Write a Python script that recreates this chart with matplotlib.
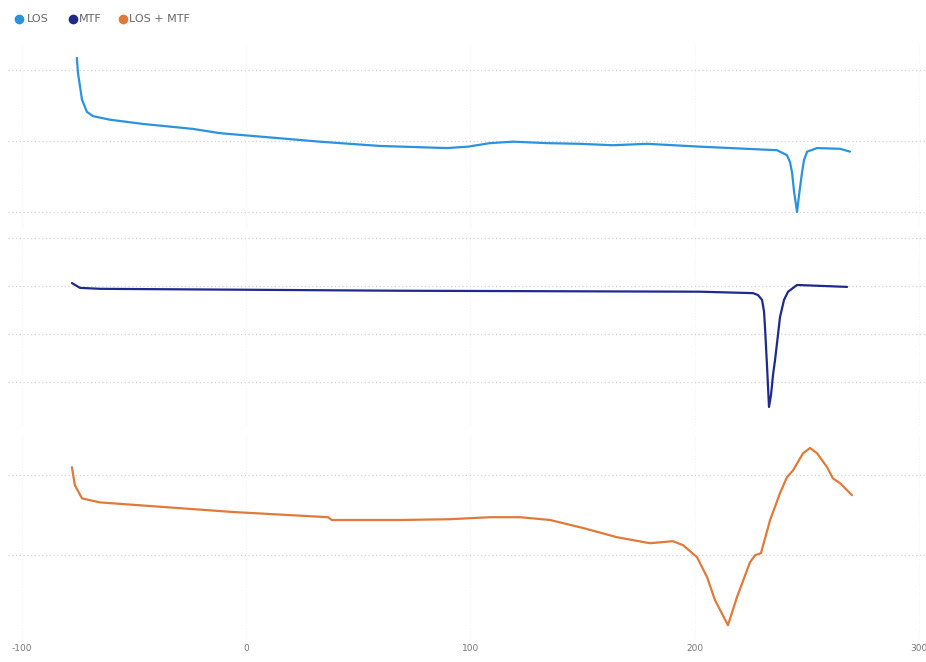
import matplotlib
matplotlib.use("Agg")
import matplotlib.pyplot as plt
from matplotlib.lines import Line2D

# ---------------- data ----------------
series_names = ["LOS", "MTF", "LOS + MTF"]

los_x = [-75.5, -75.0, -73.2, -71.0, -68.3, -60.8, -46.0, -23.7, -11.7, 32.9, 59.6,
         89.5, 98.9, 108.7, 119.0, 134.1, 148.8, 163.5, 178.7, 202.3, 236.7, 241.1,
         242.5, 243.4, 244.3, 245.6, 246.5, 247.8, 248.7, 250.1, 254.5, 264.8, 269.2]
los_y = [2.17, 1.96, 1.58, 1.41, 1.35, 1.30, 1.24, 1.17, 1.11, 0.99, 0.93,
         0.90, 0.92, 0.97, 0.99, 0.97, 0.96, 0.94, 0.96, 0.92, 0.87, 0.80,
         0.70, 0.55, 0.28, 0.00, 0.24, 0.55, 0.73, 0.85, 0.90, 0.89, 0.85]

mtf_x = [-77.7, -74.1, -65.2, 68.6, 202.3, 226.0, 228.2, 230.0, 230.9, 231.3, 232.2,
         233.1, 234.0, 234.9, 235.8, 237.1, 238.0, 239.8, 241.6, 245.6, 267.9]
mtf_y = [2.06, 1.96, 1.94, 1.90, 1.88, 1.85, 1.81, 1.71, 1.46, 1.15, 0.35,
         -0.52, -0.27, 0.15, 0.46, 0.98, 1.35, 1.71, 1.88, 2.02, 1.98]

sum_x = [-77.7, -76.4, -73.2, -65.2, -5.9, 36.5, 38.2, 68.6, 90.9, 108.7, 122.1,
         135.5, 150.2, 165.3, 180.0, 190.3, 194.8, 201.0, 205.5, 209.0, 214.8,
         218.8, 224.6, 226.9, 229.5, 233.6, 238.0, 241.1, 243.8, 248.3, 251.4,
         254.5, 259.0, 261.6, 264.8, 270.1]
sum_y = [1.10, 0.875, 0.71, 0.66, 0.54, 0.475, 0.44, 0.44, 0.45, 0.475, 0.475,
         0.44, 0.34, 0.225, 0.15, 0.175, 0.125, -0.025, -0.275, -0.56, -0.875,
         -0.525, -0.09, 0.0, 0.025, 0.44, 0.775, 0.975, 1.06, 1.275, 1.34,
         1.275, 1.10, 0.96, 0.90, 0.75]

x_ticks = [-100, 0, 100, 200, 300]
x_tick_labels = ["-100", "0", "100", "200", "300"]
grid_los = [0, 1, 2]
grid_mtf = [0, 1, 2, 3]
grid_sum = [0, 1]

colors = ["#2b93dd", "#1f2a8c", "#e07a3b"]

# ---------------- figure ----------------
W, H = 926, 662
fig = plt.figure(figsize=(W / 100, H / 100), dpi=100)
fig.patch.set_facecolor("white")

def rect(top_px, bottom_px, left_px=8, right_px=926):
    return [left_px / W, 1 - bottom_px / H, (right_px - left_px) / W, (bottom_px - top_px) / H]

xlim = (-106.2, 303.1)

panels = [
    (rect(46, 230), los_x, los_y, grid_los, (-0.254, 2.338), colors[0]),
    (rect(236, 425), mtf_x, mtf_y, grid_mtf, (-0.896, 3.04), colors[1]),
    (rect(436, 640), sum_x, sum_y, grid_sum, (-1.06, 1.49), colors[2]),
]

axes = []
for r, xs, ys, gy, ylim, col in panels:
    ax = fig.add_axes(r)
    ax.set_xlim(*xlim)
    ax.set_ylim(*ylim)
    for s in ax.spines.values():
        s.set_visible(False)
    ax.set_yticks(gy)
    ax.set_yticklabels([])
    ax.set_xticks(x_ticks)
    ax.tick_params(length=0)
    ax.grid(axis="y", color="#d2d2d2", linestyle=(0, (1, 2)), linewidth=0.9)
    ax.grid(axis="x", color="#f3f3f3", linestyle=(0, (1, 1.5)), linewidth=0.8)
    ax.set_axisbelow(True)
    ax.plot(xs, ys, color=col, linewidth=1.6, solid_joinstyle="round",
            solid_capstyle="round")
    axes.append(ax)

for ax in axes[:-1]:
    ax.set_xticklabels([])
axes[-1].set_xticklabels(x_tick_labels, fontsize=6.5, color="#777777")
axes[-1].tick_params(axis="x", pad=3)

# ---------------- legend ----------------
leg_dots = [19, 73, 123]
leg_texts = [27, 79, 129]
ly = 1 - 19 / H
for name, col, dx, tx in zip(series_names, colors, leg_dots, leg_texts):
    fig.add_artist(Line2D([dx / W], [ly], marker="o", markersize=7, color=col,
                          markeredgewidth=0, transform=fig.transFigure))
    fig.text(tx / W, ly, name, fontsize=8, color="#666666", va="center", ha="left")

fig.savefig("out.png", dpi=100, facecolor="white")
